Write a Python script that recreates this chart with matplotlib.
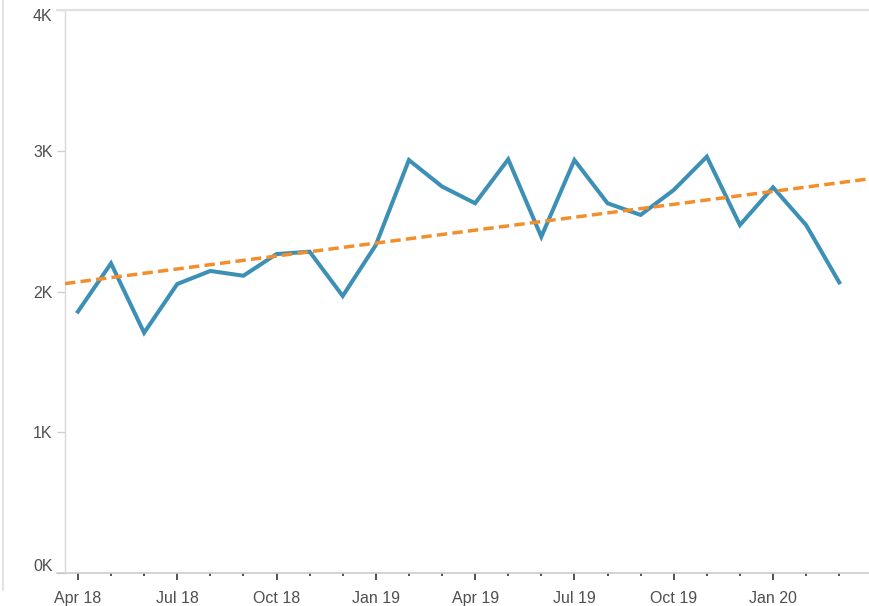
import matplotlib.pyplot as plt
import matplotlib.transforms as mtransforms
import numpy as np
from matplotlib.lines import Line2D

# 月份 Apr 18 .. Mar 20
months = ['Apr 18', 'May 18', 'Jun 18', 'Jul 18', 'Aug 18', 'Sep 18',
          'Oct 18', 'Nov 18', 'Dec 18', 'Jan 19', 'Feb 19', 'Mar 19',
          'Apr 19', 'May 19', 'Jun 19', 'Jul 19', 'Aug 19', 'Sep 19',
          'Oct 19', 'Nov 19', 'Dec 19', 'Jan 20', 'Feb 20', 'Mar 20']
values = [1857, 2200, 1707, 2053, 2146, 2112, 2266, 2283, 1968, 2330, 2934, 2746,
          2627, 2939, 2389, 2934, 2627, 2544, 2721, 2958, 2472, 2740, 2472, 2065]
yticks = [0, 1000, 2000, 3000, 4000]
ytick_labels = ['0K', '1K', '2K', '3K', '4K']

plt.rcParams['font.family'] = ['Liberation Sans', 'DejaVu Sans']

fig = plt.figure(figsize=(8.7, 6.06), dpi=100)
W, H = 870, 606
ax = fig.add_axes([65 / W, (H - 573) / H, (870 - 65) / W, (573 - 10) / H])

x = np.arange(len(months))
ax.plot(x, values, color='#3c8fb5', lw=2.9, solid_joinstyle='miter', zorder=3)

# 趋势线
k, b = np.polyfit(x, values, 1)
xl = np.array([-0.39, 23.93])
ax.plot(xl, k * xl + b, color='#f28e2b', lw=2.5, dashes=(3.0, 1.5), zorder=4)

ax.set_xlim(-0.39, 23.93)
ax.set_ylim(0, 4000)
ax.set_yticks(yticks)
ax.set_yticklabels(ytick_labels)
major = [i for i in x if i % 3 == 0]
minor = [i for i in x if i % 3 != 0]
ax.set_xticks(major)
ax.set_xticklabels([months[i] for i in major])
ax.set_xticks(minor, minor=True)

txt = '#4f4f4f'
ax.tick_params(axis='y', length=6, width=1, color='#cfcfcf', pad=3, labelsize=11.5, labelcolor=txt)
ax.tick_params(axis='x', which='major', length=5, width=1.3, color='#444444', pad=8, labelsize=11.5, labelcolor=txt)
ax.tick_params(axis='x', which='minor', length=2, width=1.3, color='#444444')

# 4K 往下挪, 0K 往上挪 (跟原图一样)
ylabs = ax.get_yticklabels()
ylabs[0].set_transform(ylabs[0].get_transform() + mtransforms.ScaledTranslation(0, 8 / 100, fig.dpi_scale_trans))
ylabs[-1].set_transform(ylabs[-1].get_transform() + mtransforms.ScaledTranslation(0, -5 / 100, fig.dpi_scale_trans))

for s in ['top', 'right', 'bottom']:
    ax.spines[s].set_visible(False)
ax.spines['left'].set_color('#d9d9d9')
ax.spines['left'].set_linewidth(1)

# 边框线
fig.add_artist(Line2D([57 / W, 1], [1 - 10 / H, 1 - 10 / H], color='#e0e0e0', lw=1.5))
fig.add_artist(Line2D([57 / W, 1], [1 - 573 / H, 1 - 573 / H], color='#cccccc', lw=1.2))
fig.add_artist(Line2D([3 / W, 3 / W], [1, 1 - 590 / H], color='#dddddd', lw=1.2))

fig.savefig('out.png', dpi=100)
